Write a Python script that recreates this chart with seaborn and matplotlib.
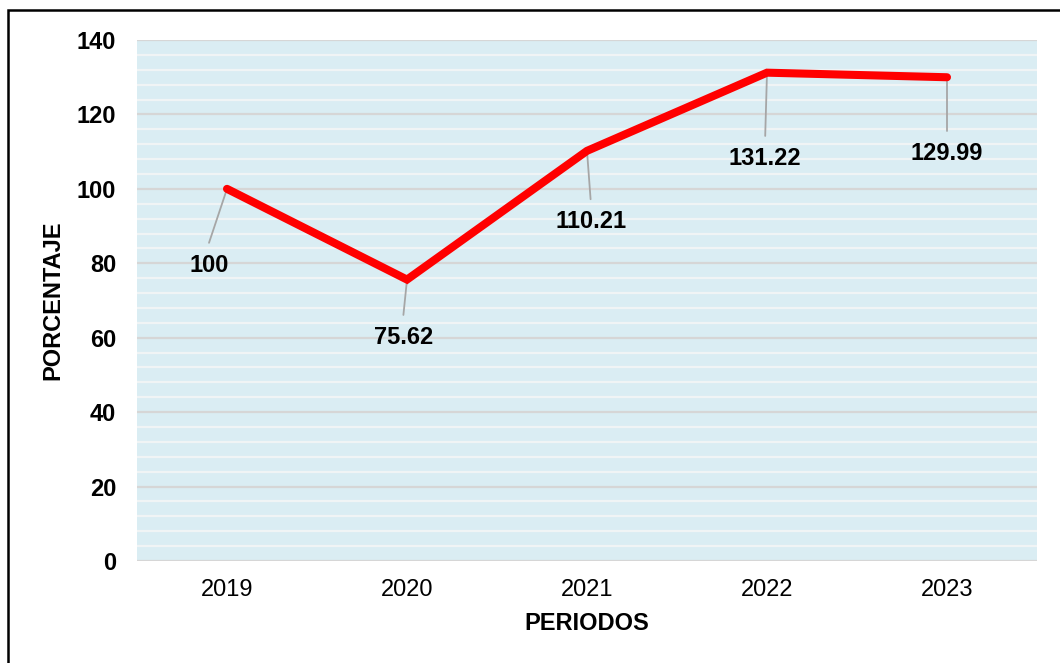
import numpy as np
import pandas as pd
import matplotlib
matplotlib.use("Agg")
import matplotlib.pyplot as plt
import seaborn as sns
from matplotlib.patches import Rectangle

# data
periodos = ["2019", "2020", "2021", "2022", "2023"]
porcentaje = [100, 75.62, 110.21, 131.22, 129.99]
etiquetas = ["100", "75.62", "110.21", "131.22", "129.99"]
# label offsets (x in categories, y in data units)
label_dx = [-0.1, -0.02, 0.02, -0.01, 0.0]
label_dy = [-20.5, -15.5, -19, -23, -20.5]

df = pd.DataFrame({"Periodo": periodos, "Porcentaje": porcentaje})

sns.set_theme(style="white")
plt.rcParams["font.family"] = ["Liberation Sans", "DejaVu Sans"]

fig = plt.figure(figsize=(10.6, 6.63), dpi=100)
ax = fig.add_axes([137 / 1060, 1 - 561 / 663, (1037 - 137) / 1060, (561 - 40) / 663])
ax.set_facecolor("#DAEDF3")

# grid: white minor, grey major
for v in np.arange(0, 141, 4):
    if v % 20 != 0:
        ax.axhline(v, color="#F0F4F5", lw=1.6, zorder=0)
for v in range(0, 141, 20):
    ax.axhline(v, color="#D6D6D6", lw=1.6, zorder=0)

x = np.arange(len(periodos))
sns.lineplot(data=df, x=x, y="Porcentaje", ax=ax, color="#FF0000", linewidth=5.8,
             solid_capstyle="round", solid_joinstyle="miter", zorder=3)

for i, (v, lab) in enumerate(zip(porcentaje, etiquetas)):
    tx, ty = x[i] + label_dx[i], v + label_dy[i]
    ax.plot([x[i], tx], [v, ty + 6], color="#A6A6A6", lw=1.3, zorder=2)
    ax.text(tx, ty, lab, ha="center", va="center", fontsize=17,
            fontweight="bold", color="#000000", zorder=4)

ax.set_xlim(-0.5, 4.5)
ax.set_ylim(0, 140)
ax.set_xticks(x)
ax.set_xticklabels(periodos, fontsize=17, color="black")
ax.set_yticks(range(0, 141, 20))
ax.set_yticklabels([str(v) for v in range(0, 141, 20)], fontsize=17,
                   fontweight="bold", color="black")
ax.tick_params(axis="y", length=0, pad=15)
ax.tick_params(axis="x", length=0, pad=13)
for s in ax.spines.values():
    s.set_visible(False)

ax.set_xlabel("PERIODOS", fontsize=17, fontweight="bold", color="black", labelpad=8)
ax.set_ylabel("PORCENTAJE", fontsize=17, fontweight="bold", color="black", labelpad=9)

# outer border (runs off the right and bottom edges)
fig.patches.append(Rectangle((7.5 / 1060, -10 / 663), 1080 / 1060, 663 / 663,
                             transform=fig.transFigure, fill=False,
                             edgecolor="black", lw=1.8))

fig.savefig("out.png", dpi=100)
